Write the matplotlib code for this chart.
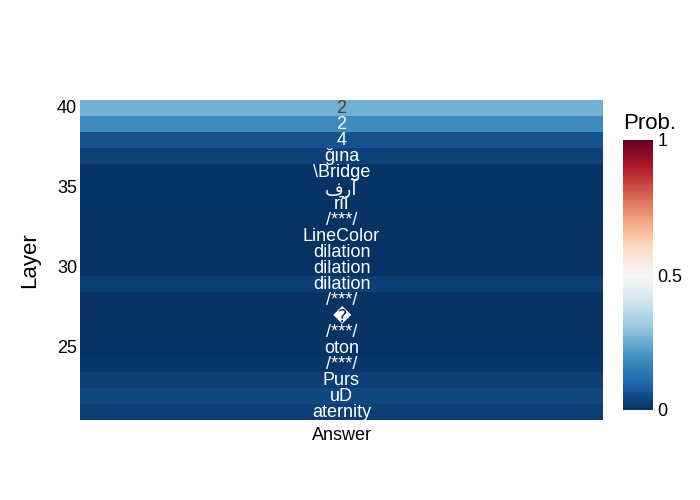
import numpy as np
import matplotlib
matplotlib.use("Agg")
import matplotlib.pyplot as plt
import matplotlib.transforms as mtransforms

plt.rcParams['font.family'] = ['Liberation Sans', 'DejaVu Sans']

# layers 21 .. 40 (bottom to top)
layers = list(range(21, 41))
answers = ["aternity", "uD", "Purs", "/***/", "oton", "/***/", "\ufffd", "/***/",
           "dilation", "dilation", "dilation", "LineColor", "/***/", "rīl", "فرآ",
           "\\Bridge", "ğına", "4", "2", "2"]
probs = [0.03, 0.045, 0.03, 0.015, 0.008, 0.005, 0.005, 0.005,
         0.03, 0.005, 0.005, 0.005, 0.005, 0.008, 0.008,
         0.008, 0.035, 0.065, 0.18, 0.26]
column = "Answer"

fig = plt.figure(figsize=(7, 5), dpi=100)
ax = fig.add_axes([80 / 700, 80 / 500, 523 / 700, 320 / 500])
cax = fig.add_axes([623 / 700, 90 / 500, 30 / 700, 270 / 500])

cmap = plt.get_cmap('RdBu_r')
z = np.array(probs).reshape(-1, 1)
yedges = np.arange(layers[0] - 0.5, layers[-1] + 1.0, 1.0)
mesh = ax.pcolormesh([-0.5, 0.5], yedges, z, cmap=cmap, vmin=0, vmax=1)

for lay, txt, p in zip(layers, answers, probs):
    r, g, b, _ = cmap(p)
    lum = 0.299 * r + 0.587 * g + 0.114 * b
    col = '#444444' if lum > 0.5 else 'white'
    ax.text(0, lay - 0.05, txt, ha='center', va='center', color=col, fontsize=13)

ax.set_xlim(-0.5, 0.5)
ax.set_ylim(yedges[0], yedges[-1])
ax.set_xticks([0])
ax.set_xticklabels([column])
ax.set_yticks([25, 30, 35, 40])
ax.tick_params(length=0, labelsize=13, colors='black')
ax.tick_params(axis='x', pad=5)
ax.tick_params(axis='y', pad=2)
# nudge y tick labels up a little
shift = mtransforms.ScaledTranslation(0, 2 / 100, fig.dpi_scale_trans)
for lbl in ax.get_yticklabels():
    lbl.set_transform(lbl.get_transform() + shift)
ax.set_ylabel("Layer", fontsize=16, labelpad=12)
for s in ax.spines.values():
    s.set_visible(False)

cb = fig.colorbar(mesh, cax=cax)
cb.outline.set_visible(False)
cb.set_ticks([0, 0.5, 1])
cb.set_ticklabels(["0", "0.5", "1"])
cax.tick_params(length=0, labelsize=13, pad=3)
cax.set_title("Prob.", fontsize=16, loc='left', pad=8)

fig.savefig("out.png", dpi=100)
